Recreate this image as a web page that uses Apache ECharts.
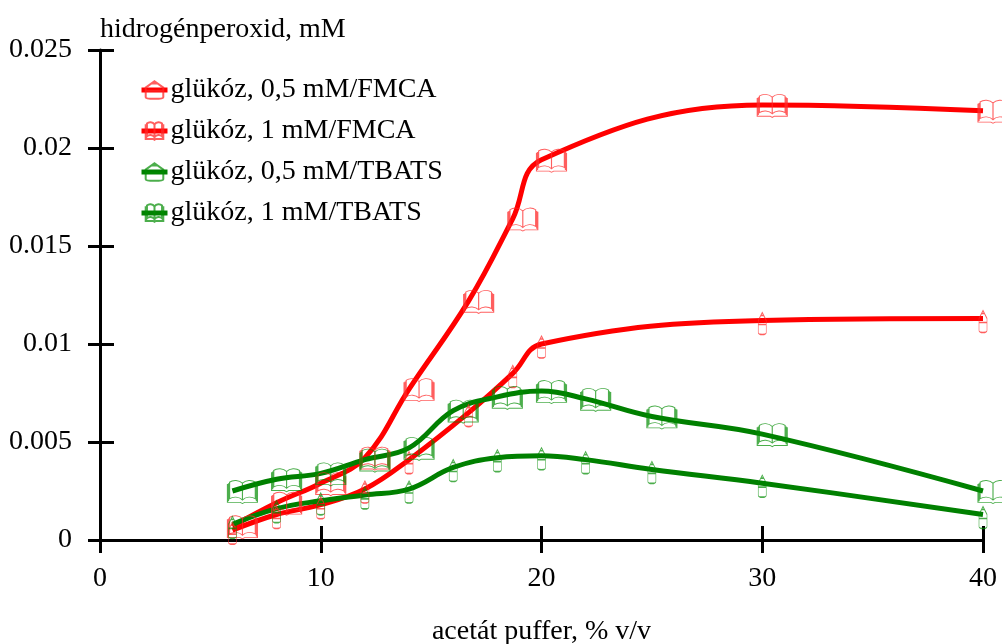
<!DOCTYPE html>
<html>
<head>
<meta charset="utf-8">
<script src="https://cdn.jsdelivr.net/npm/echarts@6/dist/echarts.min.js"></script>
<style>
html,body{margin:0;padding:0;background:#fff;}
#c{width:1002px;height:644px;}
</style>
</head>
<body>
<div id="c"></div>
<script>
// x values (acetát puffer, % v/v)
const xFMCA = [6, 8, 10, 12, 14, 16.7, 18.7, 20, 30, 40];
const xTBATS = [6, 8, 10, 12, 14, 16, 18, 20, 22, 25, 30, 40];
// hidrogénperoxid, mM
const glu05FMCA = [0.0005, 0.0013, 0.0018, 0.0026, 0.0041, 0.0065, 0.0085, 0.0100, 0.0112, 0.0113];
const glu1FMCA = [0.0007, 0.0019, 0.0029, 0.0042, 0.0077, 0.0122, 0.0164, 0.0194, 0.0222, 0.0219];
const glu05TBATS = [0.0008, 0.0016, 0.0020, 0.0023, 0.0026, 0.0037, 0.0042, 0.0043, 0.0041, 0.0036, 0.0029, 0.0013];
const glu1TBATS = [0.0025, 0.0031, 0.0034, 0.0041, 0.0047, 0.0066, 0.0073, 0.0076, 0.0072, 0.0063, 0.0054, 0.0025];
const seriesNames = ['glükóz, 0,5 mM/FMCA', 'glükóz, 1 mM/FMCA', 'glükóz, 0,5 mM/TBATS', 'glükóz, 1 mM/TBATS'];
const yTickLabels = ['0', '0.005', '0.01', '0.015', '0.02', '0.025'];

const FONT = '"Liberation Serif", "Times New Roman", serif';
const FS = 28;
const PENCIL = 'path://M4 0 L7 8 L7 20 Q7 22 4 22 Q1 22 1 20 L1 8 Z M1 12 L7 12 M3 3 L5 3';
const BOOK = 'path://M15 5 C12 2 6 2 3 4 L3 18 C6 16 12 16 15 19 C18 16 24 16 27 18 L27 4 C24 2 18 2 15 5 L15 19 M3 6 L1 6 L1 21 L13 21 L15 22 L17 21 L29 21 L29 6 L27 6 M2 5 L2 20 M28 5 L28 20';

function pairs(xs, ys){ return xs.map((x,i)=>[x, ys[i]]); }

function mk(name, xs, ys, color, mcolor, sym, size, off){
  return {
    name: name, type: 'line', smooth: 0.4,
    data: pairs(xs, ys),
    symbol: sym, symbolSize: size, symbolOffset: off, symbolKeepAspect: false,
    showSymbol: true,
    lineStyle: {color: color, width: 5},
    itemStyle: {color: 'rgba(0,0,0,0)', borderColor: mcolor, borderWidth: 1},
    emphasis: {disabled: true},
    z: 3
  };
}

const chart = echarts.init(document.getElementById('c'), null, {renderer: 'canvas'});
const axisCommon = {
  min: 0,
  axisLine: {show: true, lineStyle: {color: '#000', width: 3}},
  splitLine: {show: false}
};
chart.setOption({
  animation: false,
  backgroundColor: '#fff',
  textStyle: {fontFamily: FONT},
  grid: {left: 100, right: 19, top: 50, bottom: 104, containLabel: false, outerBoundsMode: 'none'},
  legend: {
    orient: 'vertical', left: 134, top: 71,
    itemWidth: 26, itemHeight: 22, itemGap: 13,
    selectedMode: false,
    symbolKeepAspect: false,
    lineStyle: {width: 5},
    textStyle: {fontFamily: FONT, fontSize: FS, color: '#000', padding: [0,0,0,-2]},
    data: seriesNames
  },
  xAxis: [
    Object.assign({}, axisCommon, {
      type: 'value', max: 40, interval: 10,
      name: 'acetát puffer, % v/v', nameLocation: 'middle', nameGap: 92,
      nameTextStyle: {fontFamily: FONT, fontSize: FS, color: '#000', verticalAlign: 'middle'},
      axisTick: {show: true, length: 13, lineStyle: {color: '#000', width: 3}},
      axisLabel: {fontFamily: FONT, fontSize: FS, color: '#000', margin: 25}
    }),
    Object.assign({}, axisCommon, {
      type: 'value', max: 40, interval: 10, position: 'bottom',
      axisLine: {show: false},
      axisTick: {show: true, inside: true, length: 14, lineStyle: {color: '#000', width: 3}},
      axisLabel: {show: false}
    })
  ],
  yAxis: [
    Object.assign({}, axisCommon, {
      type: 'value', max: 0.025, interval: 0.005,
      name: 'hidrogénperoxid, mM', nameLocation: 'end', nameGap: 20,
      nameTextStyle: {fontFamily: FONT, fontSize: FS, color: '#000', align: 'left', verticalAlign: 'middle'},
      axisTick: {show: true, length: 12, lineStyle: {color: '#000', width: 3}},
      axisLabel: {fontFamily: FONT, fontSize: FS, color: '#000', margin: 28,
        formatter: function(v){ const i = Math.round(v/0.005); return yTickLabels[i] !== undefined ? yTickLabels[i] : String(v); }}
    }),
    Object.assign({}, axisCommon, {
      type: 'value', max: 0.025, interval: 0.005, position: 'left',
      axisLine: {show: false},
      axisTick: {show: true, inside: true, length: 14, lineStyle: {color: '#000', width: 3}},
      axisLabel: {show: false}
    })
  ],
  series: [
    mk(seriesNames[0], xFMCA, glu05FMCA, '#ff0000', 'rgba(255,40,40,0.75)', PENCIL, [8, 22], [0, 3]),
    mk(seriesNames[1], xFMCA, glu1FMCA, '#ff0000', 'rgba(255,40,40,0.75)', BOOK, [30, 23], [10, 1]),
    mk(seriesNames[2], xTBATS, glu05TBATS, '#008000', 'rgba(0,140,0,0.7)', PENCIL, [8, 22], [0, 3]),
    mk(seriesNames[3], xTBATS, glu1TBATS, '#008000', 'rgba(0,140,0,0.7)', BOOK, [30, 23], [10, 1])
  ]
});
</script>
</body>
</html>
